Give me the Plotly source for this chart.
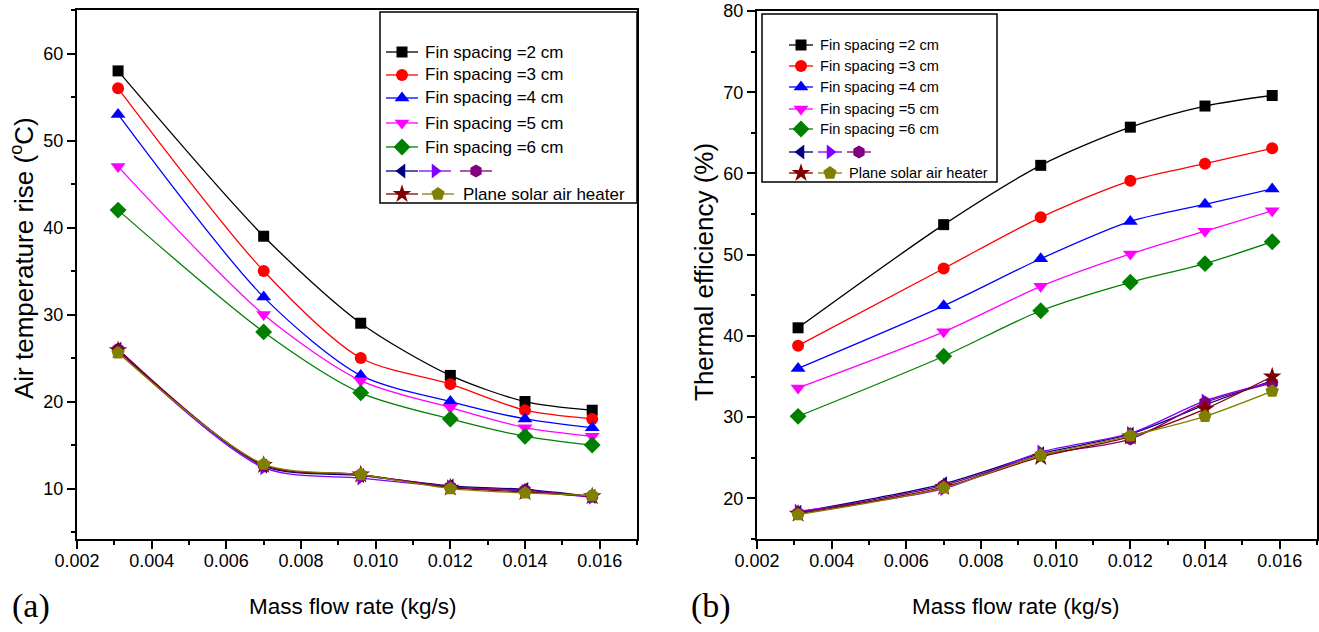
import plotly.graph_objects as go

W, H = 1319, 632

# ---------------- data ----------------
mass_flow = [0.0031, 0.0070, 0.0096, 0.0120, 0.0140, 0.0158]

series_names = ["Fin spacing =2 cm", "Fin spacing =3 cm", "Fin spacing =4 cm",
                "Fin spacing =5 cm", "Fin spacing =6 cm",
                "Series A", "Series B", "Series C",
                "Plane solar air heater (star)", "Plane solar air heater"]

# (a) Air temperature rise (°C)
temp_fin2 = [58.0, 39.0, 29.0, 23.0, 20.0, 19.0]
temp_fin3 = [56.0, 35.0, 25.0, 22.0, 19.0, 18.0]
temp_fin4 = [53.0, 32.0, 23.0, 20.0, 18.0, 17.0]
temp_fin5 = [47.0, 30.0, 22.4, 19.3, 17.0, 16.0]
temp_fin6 = [42.0, 28.0, 21.0, 18.0, 16.0, 15.0]
temp_a = [26.0, 12.6, 11.5, 10.3, 9.9, 9.1]
temp_b = [25.8, 12.4, 11.2, 10.2, 9.7, 9.0]
temp_c = [26.0, 12.7, 11.6, 10.2, 9.8, 9.1]
temp_star = [25.9, 12.7, 11.6, 10.1, 9.6, 9.1]
temp_plane = [25.6, 12.8, 11.6, 10.0, 9.5, 9.2]

# (b) Thermal efficiency (%)
eff_fin2 = [41.0, 53.7, 61.0, 65.7, 68.3, 69.6]
eff_fin3 = [38.8, 48.3, 54.6, 59.1, 61.2, 63.1]
eff_fin4 = [36.0, 43.7, 49.5, 54.1, 56.2, 58.1]
eff_fin5 = [33.6, 40.5, 46.1, 50.1, 52.9, 55.4]
eff_fin6 = [30.1, 37.5, 43.1, 46.6, 48.9, 51.6]
eff_a = [18.3, 21.8, 25.5, 27.9, 31.5, 34.5]
eff_b = [18.4, 21.2, 25.7, 28.0, 32.0, 34.3]
eff_c = [18.2, 21.6, 25.3, 27.3, 31.8, 34.2]
eff_star = [18.1, 21.4, 25.1, 27.6, 31.0, 35.0]
eff_plane = [18.0, 21.3, 25.3, 27.7, 30.1, 33.2]

x_ticks = [0.002, 0.004, 0.006, 0.008, 0.010, 0.012, 0.014, 0.016]
x_tick_text = ["0.002", "0.004", "0.006", "0.008", "0.010", "0.012", "0.014", "0.016"]

# ---------------- styles ----------------
colors = ["#000000", "#FF0000", "#0000FF", "#FF00FF", "#008000",
          "#000080", "#8000FF", "#800080", "#800000", "#808000"]
symbols = ["square", "circle", "triangle-up", "triangle-down", "diamond",
           "triangle-left", "triangle-right", "hexagon", "star", "pentagon"]
msizes = [11, 12, 13, 13, 13, 13, 13, 13, 14, 14]

FONT = "Arial, Liberation Sans, sans-serif"
SERIF = "Times New Roman, Liberation Serif, serif"

temp_series = [temp_fin2, temp_fin3, temp_fin4, temp_fin5, temp_fin6,
               temp_a, temp_b, temp_c, temp_star, temp_plane]
eff_series = [eff_fin2, eff_fin3, eff_fin4, eff_fin5, eff_fin6,
              eff_a, eff_b, eff_c, eff_star, eff_plane]

fig = go.Figure()

for i in range(10):
    fig.add_trace(go.Scatter(
        x=mass_flow, y=temp_series[i], mode="lines+markers", name=series_names[i],
        line=dict(color=colors[i], width=1.3, shape="spline", smoothing=0.8),
        marker=dict(symbol=symbols[i], size=msizes[i], color=colors[i], line=dict(width=0)),
        xaxis="x", yaxis="y", showlegend=False))
for i in range(10):
    fig.add_trace(go.Scatter(
        x=mass_flow, y=eff_series[i], mode="lines+markers", name=series_names[i],
        line=dict(color=colors[i], width=1.3, shape="spline", smoothing=0.8),
        marker=dict(symbol=symbols[i], size=msizes[i], color=colors[i], line=dict(width=0)),
        xaxis="x2", yaxis="y2", showlegend=False))

# ---------------- custom legends (pixel overlay axis) ----------------
def px(x):
    return x / W

def py(y):
    return 1 - y / H

legend_specs = [
    # left panel
    dict(rows=[52, 75, 98, 123, 147, 171, 194], sym_x=[402, 435, 476], half=16,
         text_x=423, text_x_last=461, pair_x=438, size=17,
         box=(380, 12, 637, 203)),
    # right panel
    dict(rows=[45, 66, 87, 109, 129, 152, 173], sym_x=[801, 830, 859], half=12,
         text_x=818, text_x_last=847, pair_x=830, size=14.6,
         box=(762, 14, 997, 182)),
]

annotations = []
shapes = []
for spec in legend_specs:
    x0, y0, x1, y1 = spec["box"]
    shapes.append(dict(type="rect", xref="paper", yref="paper",
                       x0=px(x0), x1=px(x1), y0=py(y1), y1=py(y0),
                       line=dict(color="#000000", width=1.5), fillcolor="rgba(0,0,0,0)"))
    rows = spec["rows"]
    h = spec["half"]
    entries = []  # (row index, x center, series idx)
    for i in range(5):
        entries.append((i, spec["sym_x"][0], i))
    entries += [(5, spec["sym_x"][0], 5), (5, spec["sym_x"][1], 6), (5, spec["sym_x"][2], 7),
                (6, spec["sym_x"][0], 8), (6, spec["pair_x"], 9)]
    for r, xc, si in entries:
        fig.add_trace(go.Scatter(
            x=[xc - h, xc + h], y=[rows[r], rows[r]], mode="lines",
            line=dict(color=colors[si], width=1.3), xaxis="x3", yaxis="y3",
            showlegend=False, hoverinfo="skip"))
        fig.add_trace(go.Scatter(
            x=[xc], y=[rows[r]], mode="markers",
            marker=dict(symbol=symbols[si], size=msizes[si], color=colors[si], line=dict(width=0)),
            xaxis="x3", yaxis="y3", showlegend=False, hoverinfo="skip"))
    for i in range(5):
        annotations.append(dict(text=series_names[i], x=px(spec["text_x"]), y=py(rows[i]),
                                xref="paper", yref="paper", xanchor="left", yanchor="middle",
                                showarrow=False, font=dict(family=FONT, size=spec["size"], color="black")))
    annotations.append(dict(text="Plane solar air heater", x=px(spec["text_x_last"]), y=py(rows[6]),
                            xref="paper", yref="paper", xanchor="left", yanchor="middle",
                            showarrow=False, font=dict(family=FONT, size=spec["size"], color="black")))

# titles and panel labels
annotations += [
    dict(text="Mass flow rate (kg/s)", x=px(353), y=py(606), xref="paper", yref="paper",
         xanchor="center", yanchor="middle",
         showarrow=False, font=dict(family=FONT, size=22.5, color="black")),
    dict(text="Mass flow rate (kg/s)", x=px(1016), y=py(606), xref="paper", yref="paper",
         xanchor="center", yanchor="middle",
         showarrow=False, font=dict(family=FONT, size=22.5, color="black")),
    dict(text="Air temperature rise (<sup>o</sup>C)", x=px(22), y=py(258), xref="paper", yref="paper",
         xanchor="center", yanchor="middle",
         textangle=-90, showarrow=False, font=dict(family=FONT, size=26, color="black")),
    dict(text="Thermal efficiency (%)", x=px(704), y=py(272), xref="paper", yref="paper",
         xanchor="center", yanchor="middle",
         textangle=-90, showarrow=False, font=dict(family=FONT, size=26, color="black")),
    dict(text="(a)", x=px(31), y=py(606), xref="paper", yref="paper",
         xanchor="center", yanchor="middle",
         showarrow=False, font=dict(family=SERIF, size=34, color="black")),
    dict(text="(b)", x=px(711), y=py(606), xref="paper", yref="paper",
         xanchor="center", yanchor="middle",
         showarrow=False, font=dict(family=SERIF, size=34, color="black")),
]

axis_common = dict(showline=True, linecolor="black", linewidth=2, mirror=True,
                   ticks="outside", ticklen=8, tickwidth=1.5, tickcolor="black",
                   showgrid=False, zeroline=False, automargin=False,
                   tickfont=dict(family=FONT, size=18, color="black"))

fig.update_layout(
    template="none",
    width=W, height=H,
    margin=dict(l=0, r=0, t=0, b=0, pad=0, autoexpand=False),
    paper_bgcolor="white", plot_bgcolor="rgba(0,0,0,0)",
    showlegend=False,
    xaxis=dict(domain=[px(77), px(637)], range=[0.002, 0.017], anchor="y",
               tickvals=x_ticks, ticktext=x_tick_text, ticklabelstandoff=-4,
               minor=dict(ticks="outside", ticklen=4, tickcolor="black", dtick=0.001, tick0=0.002),
               **axis_common),
    yaxis=dict(domain=[py(539), py(10)], range=[4.2, 65], anchor="x",
               dtick=10, tick0=0,
               minor=dict(ticks="outside", ticklen=4, tickcolor="black", dtick=5, tick0=0),
               **axis_common),
    xaxis2=dict(domain=[px(757), px(1317)], range=[0.002, 0.017], anchor="y2",
                tickvals=x_ticks, ticktext=x_tick_text, ticklabelstandoff=-4,
                minor=dict(ticks="outside", ticklen=4, tickcolor="black", dtick=0.001, tick0=0.002),
                **axis_common),
    yaxis2=dict(domain=[py(539), py(11)], range=[15, 80], anchor="x2",
                dtick=10, tick0=0,
                minor=dict(ticks="outside", ticklen=4, tickcolor="black", dtick=5, tick0=0),
                **axis_common),
    xaxis3=dict(domain=[0, 1], range=[0, W], visible=False, anchor="y3", fixedrange=True, automargin=False),
    yaxis3=dict(domain=[0, 1], range=[H, 0], visible=False, anchor="x3", fixedrange=True, automargin=False),
    annotations=annotations,
    shapes=shapes,
)

fig.write_html("out.html")
